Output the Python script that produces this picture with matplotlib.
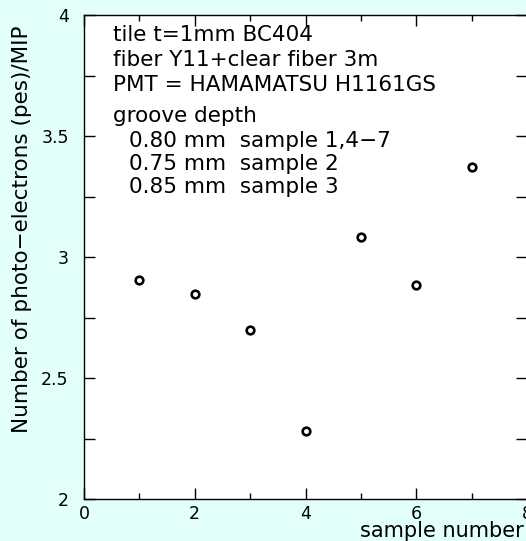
import matplotlib
matplotlib.use("Agg")
import matplotlib.pyplot as plt
from matplotlib.ticker import MultipleLocator

samples = [1, 2, 3, 4, 5, 6, 7]
pes = [2.905, 2.847, 2.698, 2.281, 3.083, 2.884, 3.37]

info_lines = [
    "tile t=1mm BC404",
    "fiber Y11+clear fiber 3m",
    "PMT = HAMAMATSU H1161GS",
    "groove depth",
]
groove_lines = [
    "0.80 mm  sample 1,4\u22127",
    "0.75 mm  sample 2",
    "0.85 mm  sample 3",
]
# baselines in pixels from the top of the figure
info_base = [41, 66, 91, 122]
groove_base = [147, 170, 193]

W, H = 526, 541
bg = "#e2fffa"
fig = plt.figure(figsize=(W / 100, H / 100), dpi=100, facecolor=bg)
ax = fig.add_axes([84 / W, 1 - 499 / H, 443 / W, 484 / H])
ax.set_facecolor("white")

ax.plot(samples, pes, "o", ms=5.5, mfc="white", mec="black", mew=1.9, zorder=3)

ax.set_xlim(0, 8)
ax.set_ylim(2, 4)
ax.xaxis.set_major_locator(MultipleLocator(2))
ax.xaxis.set_minor_locator(MultipleLocator(1))
ax.yaxis.set_major_locator(MultipleLocator(0.5))
ax.yaxis.set_minor_locator(MultipleLocator(0.25))
ax.tick_params(which="both", direction="in", top=True, right=True, width=1, labelsize=12.5)
ax.tick_params(axis="x", which="major", length=8, pad=4)
ax.tick_params(axis="x", which="minor", length=4.5)
ax.tick_params(axis="y", which="both", length=8, pad=11)
ax.set_yticks([2, 2.5, 3, 3.5, 4], ["2", "2.5", "3", "3.5", "4"])
for sp in ax.spines.values():
    sp.set_linewidth(1.0)

ax_h = 484
for t, b in zip(info_lines, info_base):
    ax.text(29 / 443, (499 - b) / ax_h, t, fontsize=15.5, va="baseline",
            transform=ax.transAxes)
for t, b in zip(groove_lines, groove_base):
    ax.text(45 / 443, (499 - b) / ax_h, t, fontsize=15.5, va="baseline",
            transform=ax.transAxes)

fig.text(524 / W, 1 - 537 / H, "sample number", ha="right", va="baseline", fontsize=15)
fig.text(22 / W, 1 - 229 / H, "Number of photo\u2212electrons (pes)/MIP", rotation=90,
         ha="center", va="center", fontsize=15.5)

fig.savefig("out.png", dpi=100, facecolor=bg)
